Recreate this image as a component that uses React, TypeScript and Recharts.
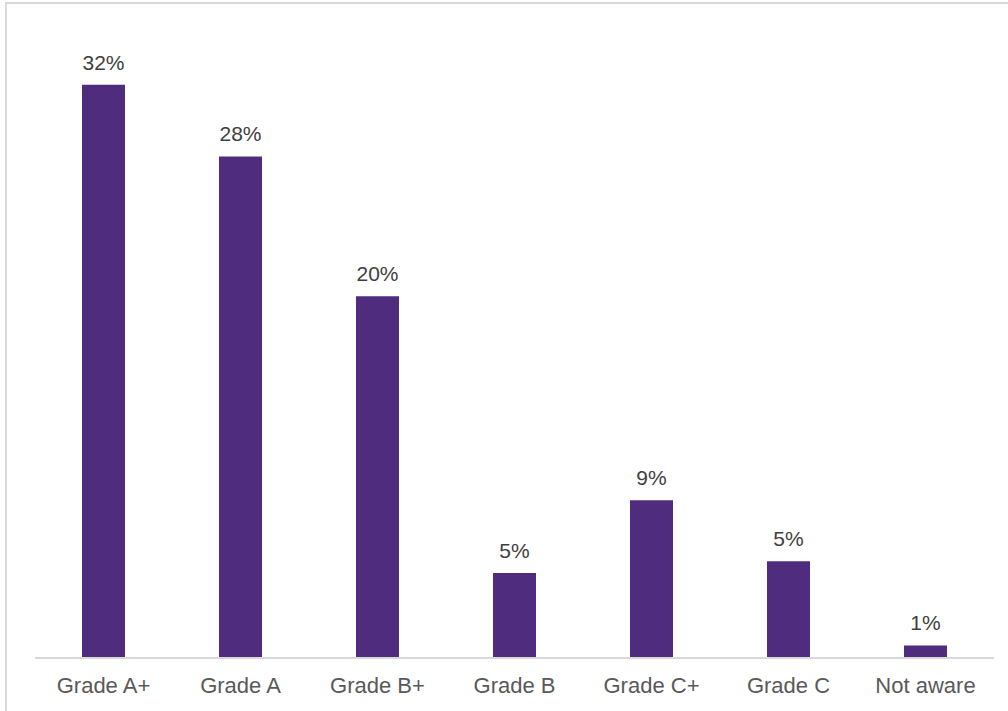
import { Bar, BarChart, LabelList, XAxis, YAxis } from "recharts";

const categories = ["Grade A+", "Grade A", "Grade B+", "Grade B", "Grade C+", "Grade C", "Not aware"];
const shares = [32, 28, 20.2, 4.75, 8.8, 5.4, 0.7];

const data = categories.map((name, i) => ({ name, value: shares[i] }));

export default function App() {
  return (
    <div style={{ position: "absolute", left: 0, top: 0, width: 1008, height: 711, overflow: "hidden", background: "#fff" }}>
      <div
        style={{
          position: "absolute",
          left: 5,
          top: 2,
          width: 1020,
          height: 730,
          border: "2px solid #d9d9d9",
          boxSizing: "border-box"
        }}
      />
      <BarChart
        width={1008}
        height={711}
        data={data}
        margin={{ top: 31, right: 14, left: 35, bottom: 0 }}
        style={{ position: "absolute", left: 0, top: 0, fontFamily: "'Liberation Sans', Arial, sans-serif" }}
      >
        <XAxis
          dataKey="name"
          height={53}
          tickLine={false}
          tickSize={0}
          tickMargin={19}
          axisLine={{ stroke: "#d9d9d9", strokeWidth: 2 }}
          tick={{ fill: "#595959", fontSize: 22 }}
          interval={0}
        />
        <YAxis hide domain={[0, 35]} />
        <Bar dataKey="value" fill="#4f2c7d" barSize={43} isAnimationActive={false}>
          <LabelList
            dataKey="value"
            position="top"
            offset={15}
            fill="#404040"
            fontSize={21}
            formatter={(v: number) => `${Math.round(v)}%`}
          />
        </Bar>
      </BarChart>
    </div>
  );
}
